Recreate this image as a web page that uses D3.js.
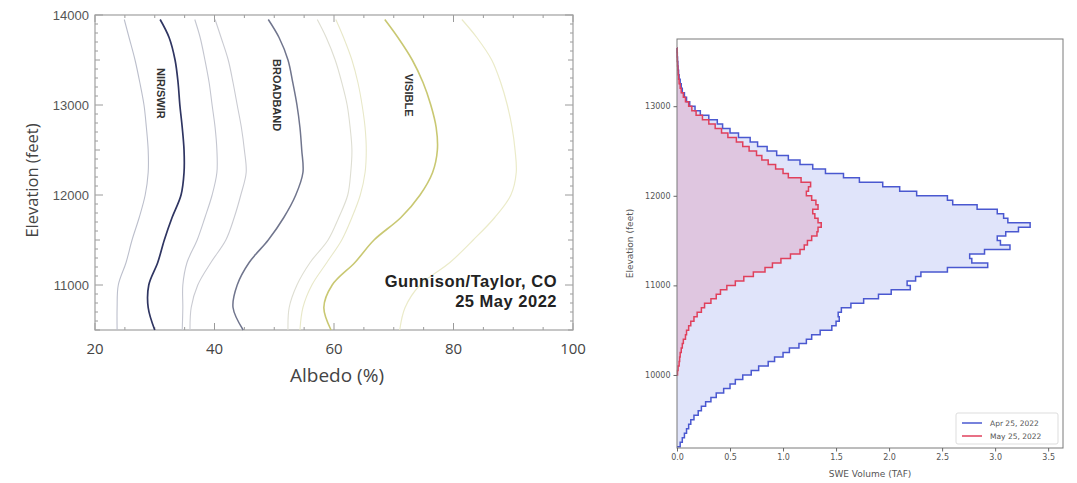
<!DOCTYPE html>
<html>
<head>
<meta charset="utf-8">
<script src="https://cdn.jsdelivr.net/npm/d3@7"></script>
<style>
  html, body { margin: 0; padding: 0; background: #fff; }
  svg { display: block; }
</style>
</head>
<body>
<svg id="chart" width="1077" height="483"></svg>
<script>
// ---------- Left panel: albedo profiles by elevation ----------
const albedoElev = [13950, 13750, 13500, 13250, 13000, 12750, 12500, 12250, 12000, 11750, 11500, 11250, 11000, 10750, 10500];

const nirLow    = [24.9, 25.7, 26.7, 27.5, 28.2, 28.6, 28.9, 28.9, 28.4, 27.4, 26.2, 25.2, 23.9, 23.7, 23.7];
const nirMid    = [30.9, 32.4, 33.4, 33.9, 34.2, 34.6, 34.9, 34.9, 34.4, 32.9, 31.6, 30.5, 29.0, 28.9, 30.0];
const nirHigh   = [36.7, 37.6, 38.4, 39.1, 39.6, 40.1, 40.4, 40.4, 39.6, 38.4, 37.1, 35.4, 34.7, 34.7, 34.6];
const broadLow  = [40.1, 41.1, 42.3, 43.1, 43.8, 44.5, 45.0, 45.3, 44.4, 43.3, 41.9, 39.4, 37.2, 36.1, 35.9];
const broadMid  = [49.0, 50.8, 52.3, 53.1, 53.8, 54.3, 54.6, 54.8, 53.6, 51.6, 49.0, 45.8, 43.8, 43.1, 44.8];
const broadHigh = [57.2, 58.7, 60.2, 61.3, 62.2, 62.7, 63.0, 62.8, 62.3, 60.8, 59.0, 56.0, 53.8, 52.5, 52.3];
const visLow    = [60.3, 61.6, 63.0, 64.0, 64.7, 65.2, 65.4, 65.2, 64.4, 63.0, 61.3, 58.8, 56.3, 54.8, 54.3];
const visMid    = [68.5, 70.7, 73.1, 74.9, 76.2, 77.1, 77.3, 76.5, 74.4, 71.2, 66.7, 63.5, 59.7, 58.3, 59.5];
const visHigh   = [81.4, 83.9, 86.4, 87.9, 89.0, 89.8, 90.3, 90.5, 89.6, 86.9, 83.3, 79.4, 74.4, 71.9, 71.0];

const albedoTicks = [20, 40, 60, 80, 100];
const elevTicksLeft = [11000, 12000, 13000, 14000];
const bandLabels = ["NIR/SWIR", "BROADBAND", "VISIBLE"];
const siteLines = ["Gunnison/Taylor, CO", "25 May 2022"];

// ---------- Right panel: SWE volume by elevation band (50 ft bins) ----------
const binWidth = 50;
const aprBinStart = 9200;
const aprSwe = [
  0.03, 0.05, 0.07, 0.09, 0.11, 0.13, 0.16, 0.20, 0.23, 0.27,
  0.32, 0.37, 0.44, 0.50, 0.55, 0.62, 0.70, 0.77, 0.86, 0.92,
  1.00, 1.06, 1.15, 1.22, 1.27, 1.35, 1.46, 1.50, 1.53, 1.52,
  1.55, 1.64, 1.76, 1.90, 2.02, 2.20, 2.17, 2.25, 2.30, 2.55,
  2.93, 2.78, 2.76, 2.90, 3.14, 3.05, 3.02, 3.10, 3.22, 3.33,
  3.12, 3.08, 3.02, 2.83, 2.60, 2.55, 2.26, 2.10, 1.94, 1.72,
  1.57, 1.40, 1.28, 1.16, 1.05, 0.94, 0.85, 0.76, 0.69, 0.58,
  0.50, 0.43, 0.38, 0.30, 0.22, 0.17, 0.12, 0.09, 0.07, 0.05,
  0.04, 0.03, 0.02, 0.015, 0.01, 0.008, 0.005, 0.003, 0.001
];
const mayBinStart = 10000;
const maySwe = [
  0.005, 0.01, 0.02, 0.025, 0.03, 0.04, 0.05, 0.06, 0.08, 0.09,
  0.11, 0.13, 0.16, 0.19, 0.23, 0.26, 0.32, 0.37, 0.41, 0.47,
  0.55, 0.63, 0.72, 0.83, 0.90, 0.98, 1.07, 1.16, 1.20, 1.23,
  1.27, 1.32, 1.33, 1.36, 1.33, 1.30, 1.28, 1.33, 1.31, 1.27,
  1.22, 1.24, 1.26, 1.17, 1.05, 1.00, 0.93, 0.86, 0.80, 0.75,
  0.68, 0.62, 0.56, 0.48, 0.42, 0.36, 0.30, 0.24, 0.18, 0.14,
  0.11, 0.08, 0.06, 0.04, 0.03, 0.02, 0.015, 0.01, 0.008, 0.005,
  0.003, 0.002, 0.001
];
const sweTicks = [0.0, 0.5, 1.0, 1.5, 2.0, 2.5, 3.0, 3.5];
const elevTicksRight = [10000, 11000, 12000, 13000];
const seriesNames = ["Apr 25, 2022", "May 25, 2022"];

const svg = d3.select("#chart");

// ================= Left panel =================
const L = { left: 95, right: 573, top: 15, bottom: 330 };
const xA = d3.scaleLinear().domain([20, 100]).range([L.left, L.right]);
const yA = d3.scaleLinear().domain([10500, 14000]).range([L.bottom, L.top]);

const left = svg.append("g");

// inward ticks on all four sides
function innerTicks(values, len) {
  values.forEach(v => {
    const y = yA(v);
    left.append("line").attr("x1", L.left).attr("x2", L.left + len).attr("y1", y).attr("y2", y)
      .attr("stroke", "#9a9a9a").attr("stroke-width", 1);
    left.append("line").attr("x1", L.right).attr("x2", L.right - len).attr("y1", y).attr("y2", y)
      .attr("stroke", "#9a9a9a").attr("stroke-width", 1);
  });
}
innerTicks(d3.range(10600, 14000, 100).filter(v => v % 500 !== 0), 3);
innerTicks(d3.range(10500, 14001, 500).filter(v => v % 1000 !== 0), 5);
innerTicks(elevTicksLeft, 8);

function innerXTicks(values, len) {
  values.forEach(v => {
    const x = xA(v);
    left.append("line").attr("x1", x).attr("x2", x).attr("y1", L.bottom).attr("y2", L.bottom - len)
      .attr("stroke", "#9a9a9a").attr("stroke-width", 1);
    left.append("line").attr("x1", x).attr("x2", x).attr("y1", L.top).attr("y2", L.top + len)
      .attr("stroke", "#9a9a9a").attr("stroke-width", 1);
  });
}
innerXTicks(d3.range(25, 100, 5).filter(v => v % 20 !== 0), 3);
innerXTicks(albedoTicks, 7);

left.append("rect")
  .attr("x", L.left).attr("y", L.top)
  .attr("width", L.right - L.left).attr("height", L.bottom - L.top)
  .attr("fill", "none").attr("stroke", "#a0a0a0").attr("stroke-width", 1.2);

// tick labels
left.selectAll("text.ylab").data(elevTicksLeft).join("text")
  .attr("x", L.left - 6).attr("y", d => yA(d) + 4.5)
  .attr("text-anchor", "end")
  .attr("font-family", "Liberation Sans Narrow, Liberation Sans, sans-serif")
  .attr("font-size", 13).attr("fill", "#555")
  .text(d => d);

left.selectAll("text.xlab").data(albedoTicks).join("text")
  .attr("x", d => xA(d)).attr("y", L.bottom + 24)
  .attr("text-anchor", "middle")
  .attr("font-family", "Open Sans, sans-serif")
  .attr("font-size", 15).attr("fill", "#444")
  .text(d => d);

left.append("text")
  .attr("transform", `translate(38, ${(L.top + L.bottom) / 2 + 8}) rotate(-90)`)
  .attr("text-anchor", "middle")
  .attr("font-family", "Open Sans, sans-serif")
  .attr("font-size", 16.5).attr("fill", "#444")
  .text("Elevation (feet)");

left.append("text")
  .attr("x", 337).attr("y", 382)
  .attr("text-anchor", "middle")
  .attr("font-family", "Open Sans, sans-serif")
  .attr("font-size", 19).attr("fill", "#444")
  .text("Albedo (%)");

// albedo profiles
const profiles = [
  { vals: nirLow,    color: "#bcbfcc", w: 1.1 },
  { vals: nirHigh,   color: "#c4c6d0", w: 1.1 },
  { vals: broadLow,  color: "#cacbd2", w: 1.1 },
  { vals: broadHigh, color: "#deded2", w: 1.1 },
  { vals: visLow,    color: "#e8e8c8", w: 1.1 },
  { vals: visHigh,   color: "#ebebc9", w: 1.2 },
  { vals: broadMid,  color: "#70758d", w: 1.5 },
  { vals: visMid,    color: "#c9c872", w: 1.6 },
  { vals: nirMid,    color: "#2f3562", w: 1.7 }
];
const profileLine = d3.line()
  .x(d => xA(d[0])).y(d => yA(d[1]))
  .curve(d3.curveCatmullRom.alpha(0.5));
profiles.forEach(p => {
  left.append("path")
    .datum(p.vals.map((v, i) => [v, albedoElev[i]]))
    .attr("d", profileLine)
    .attr("fill", "none")
    .attr("stroke", p.color)
    .attr("stroke-width", p.w);
});

// band labels, written down the curves
const bandPos = [[31.0, 13130], [50.4, 13110], [72.6, 13110]];
bandLabels.forEach((t, i) => {
  left.append("text")
    .attr("transform", `translate(${xA(bandPos[i][0])}, ${yA(bandPos[i][1])}) rotate(90)`)
    .attr("text-anchor", "middle")
    .attr("dy", "0.35em")
    .attr("font-family", "Liberation Sans Narrow, Liberation Sans, sans-serif")
    .attr("font-weight", 700)
    .attr("font-size", 11).attr("fill", "#333")
    .text(t);
});

// site and date
siteLines.forEach((t, i) => {
  left.append("text")
    .attr("x", 557).attr("y", 287 + i * 20)
    .attr("text-anchor", "end")
    .attr("font-family", "Liberation Sans, Arial, sans-serif")
    .attr("font-weight", 700)
    .attr("letter-spacing", 0.5)
    .attr("font-size", 16.5).attr("fill", "#222")
    .text(t);
});

// ================= Right panel =================
const R = { left: 677, right: 1063, top: 39, bottom: 448 };
const xS = d3.scaleLinear().domain([0, 3.64]).range([R.left, R.right]);
const yS = d3.scaleLinear().domain([9185, 13750]).range([R.bottom, R.top]);

const right = svg.append("g");

function stairs(vals, start) {
  const pts = [[0, start]];
  vals.forEach((v, i) => {
    pts.push([v, start + i * binWidth]);
    pts.push([v, start + (i + 1) * binWidth]);
  });
  pts.push([0, start + vals.length * binWidth]);
  return pts;
}
const aprPts = stairs(aprSwe, aprBinStart);
const mayPts = stairs(maySwe, mayBinStart);

const areaGen = d3.area()
  .y(d => yS(d[1]))
  .x0(xS(0))
  .x1(d => xS(d[0]));
const lineGen = d3.line().x(d => xS(d[0])).y(d => yS(d[1]));

right.append("path").datum(aprPts).attr("d", areaGen)
  .attr("fill", "rgb(100,120,230)").attr("fill-opacity", 0.2);
right.append("path").datum(mayPts).attr("d", areaGen)
  .attr("fill", "rgb(220,80,120)").attr("fill-opacity", 0.2);
right.append("path").datum(aprPts).attr("d", lineGen)
  .attr("fill", "none").attr("stroke", "#4a58d0").attr("stroke-width", 1.5);
right.append("path").datum(mayPts).attr("d", lineGen)
  .attr("fill", "none").attr("stroke", "#e0405c").attr("stroke-width", 1.5);

right.append("rect")
  .attr("x", R.left).attr("y", R.top)
  .attr("width", R.right - R.left).attr("height", R.bottom - R.top)
  .attr("fill", "none").attr("stroke", "#7a7a7a").attr("stroke-width", 1);

const xAxisR = right.append("g")
  .attr("transform", `translate(0, ${R.bottom})`)
  .call(d3.axisBottom(xS).tickValues(sweTicks).tickFormat(d3.format(".1f")).tickSize(3.5).tickPadding(3));
const yAxisR = right.append("g")
  .attr("transform", `translate(${R.left}, 0)`)
  .call(d3.axisLeft(yS).tickValues(elevTicksRight).tickFormat(d => d).tickSize(3.5).tickPadding(3));
[xAxisR, yAxisR].forEach(g => {
  g.select(".domain").remove();
  g.selectAll("line").attr("stroke", "#666");
  g.selectAll("text").attr("font-family", "DejaVu Sans, sans-serif").attr("font-size", 8).attr("fill", "#555");
});

right.append("text")
  .attr("x", (R.left + R.right) / 2).attr("y", 477)
  .attr("text-anchor", "middle")
  .attr("font-family", "DejaVu Sans, sans-serif")
  .attr("font-size", 9).attr("fill", "#555")
  .text("SWE Volume (TAF)");
right.append("text")
  .attr("transform", `translate(633, ${(R.top + R.bottom) / 2}) rotate(-90)`)
  .attr("text-anchor", "middle")
  .attr("font-family", "DejaVu Sans, sans-serif")
  .attr("font-size", 9).attr("fill", "#555")
  .text("Elevation (feet)");

// legend
const lg = right.append("g").attr("transform", "translate(956, 413)");
lg.append("rect").attr("width", 102).attr("height", 31).attr("rx", 2)
  .attr("fill", "#fff").attr("fill-opacity", 0.8).attr("stroke", "#ddd");
const legendColors = ["#4a58d0", "#e0405c"];
seriesNames.forEach((n, i) => {
  lg.append("line").attr("x1", 6).attr("x2", 26).attr("y1", 10 + i * 13).attr("y2", 10 + i * 13)
    .attr("stroke", legendColors[i]).attr("stroke-width", 1.5);
  lg.append("text").attr("x", 34).attr("y", 13 + i * 13)
    .attr("font-family", "DejaVu Sans, sans-serif").attr("font-size", 7.5).attr("fill", "#555")
    .text(n);
});
</script>
</body>
</html>
